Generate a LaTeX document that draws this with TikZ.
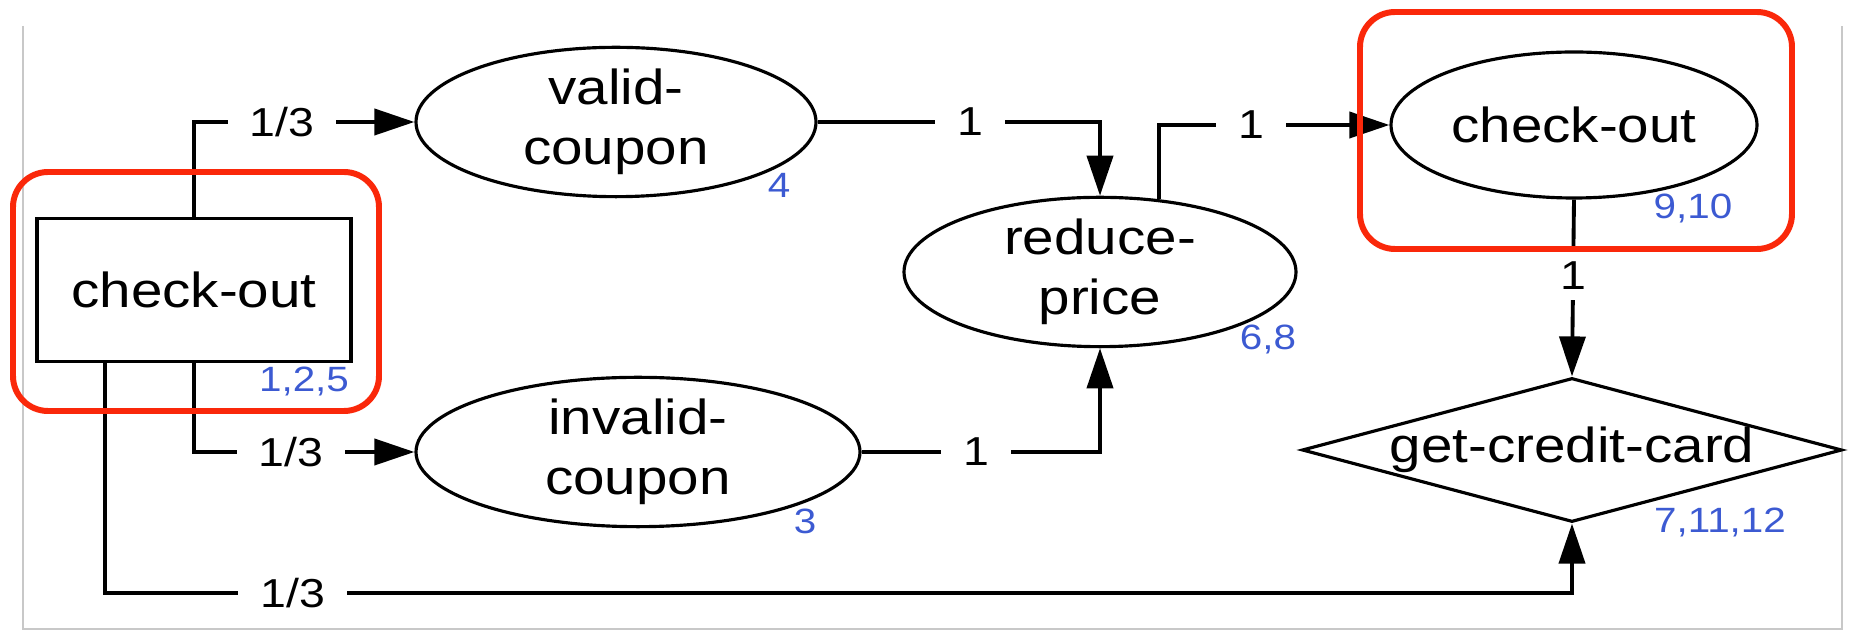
\documentclass[tikz,border=0pt]{standalone}
\usepackage{fontspec}
\setmainfont[FakeStretch=1.15]{Liberation Sans}
\usetikzlibrary{shapes.geometric,arrows.meta}
\definecolor{markred}{RGB}{250,40,10}
\definecolor{stepblue}{RGB}{60,90,210}
\definecolor{framegray}{RGB}{200,200,200}
\tikzset{
  task/.style={draw,line width=0.9pt,inner sep=0pt,align=center,font=\fontsize{14}{17}\selectfont},
  oval/.style={task,ellipse},
  choice/.style={task,diamond,aspect=3.75},
  prob/.style={fill=white,inner xsep=0.22cm,inner ysep=0.1cm,font=\fontsize{11.5}{13}\selectfont},
  stepno/.style={text=stepblue,inner sep=0pt,font=\fontsize{10}{12}\selectfont},
  flow/.style={line width=1.1pt,-{Triangle[length=4mm,width=2.6mm]}},
  redbox/.style={draw=markred,line width=1.7pt,rounded corners=0.35cm}
}
\begin{document}
\begin{tikzpicture}
\useasboundingbox (0,0) rectangle (18.55,6.35);
%-------------- frame --------------------
\draw [framegray,line width=0.8pt] (0.23,6.09) -- (0.23,0.06) -- (18.42,0.06) -- (18.42,6.09);

%-------------- tasks --------------------
\node [task,minimum width=3.14cm,minimum height=1.43cm] (co1) at (1.94,3.45) {check-out};
\node [oval,minimum width=4.00cm,minimum height=1.44cm] (valid) at (6.16,5.13) {valid-\\coupon};
\node [oval,minimum width=4.44cm,minimum height=1.44cm] (invalid) at (6.38,1.83) {invalid-\\coupon};
\node [oval,minimum width=3.92cm,minimum height=1.48cm] (reduce) at (11.00,3.63) {reduce-\\price};
\node [oval,minimum width=3.66cm,minimum height=1.46cm] (co2) at (15.74,5.10) {check-out};
\node [choice,minimum width=5.40cm,minimum height=1.44cm] (gcc) at (15.72,1.85) {get-credit-card};

\coordinate (low) at (1.05,0.42);

%-------------- steps --------------------
\node [stepno] (s1) at (3.04,2.54) {1,2,5};
\node [stepno] (s2) at (7.79,4.50) {4};
\node [stepno] (s3) at (8.05,1.14) {3};
\node [stepno] (s4) at (12.68,2.96) {6,8};
\node [stepno] (s5) at (16.93,4.27) {9,10};
\node [stepno] (s6) at (17.20,1.13) {7,11,12};

%-------------- flows --------------------
\draw [flow] (co1.north) -- (co1.north |- valid.west) -- node [prob,pos=0.40] {1/3} (valid.west);
\draw [flow] (co1.south) -- (co1.south |- invalid.west) -- node [prob,pos=0.44] {1/3} (invalid.west);
\draw [flow] (co1.south -| low) -- (low) -- node [prob,pos=0.128] {1/3} (low -| gcc.south) -- (gcc.south);
\draw [flow] (valid.east) -- node [prob,pos=0.54] {1} (valid.east -| reduce.north) -- (reduce.north);
\draw [flow] (invalid.east) -- node [prob,pos=0.48] {1} (invalid.east -| reduce.south) -- (reduce.south);
\draw [flow] (reduce.51) -- (reduce.51 |- co2.west) -- node [prob,pos=0.40] {1} (co2.west);
\draw [flow] (co2.south) -- node [prob,pos=0.43] {1} (gcc.north);

%-------------- marks --------------------
\draw [redbox] (0.13,2.24) rectangle (3.79,4.63);
\draw [redbox] (13.60,3.86) rectangle (17.92,6.23);

\end{tikzpicture}
\end{document}
